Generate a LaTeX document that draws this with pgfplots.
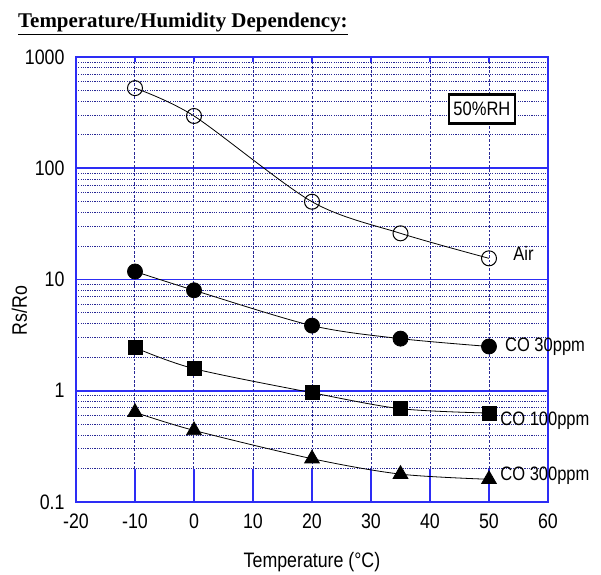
\documentclass[border=0pt]{standalone}
\usepackage{fontspec}
\setmainfont{Liberation Sans}[FakeStretch=0.85]
\newfontfamily\titlefont{Liberation Serif}
\usepackage{pgfplots}
\pgfplotsset{compat=1.18}
\definecolor{frameblue}{RGB}{45,45,245}
\definecolor{gridnavy}{RGB}{40,40,150}
\begin{document}
\begin{tikzpicture}
\path[use as bounding box] (-76bp,-73bp) rectangle (525bp,502bp);
\begin{axis}[
  at={(0,0)}, anchor=south west,
  scale only axis, width=472bp, height=445bp,
  ymode=log,
  xmin=-20, xmax=60, ymin=0.1, ymax=1000,
  xtick={-20,-10,0,10,20,30,40,50,60},
  ytick={0.1,1,10,100,1000},
  yticklabels={0.1,1,10,100,1000},
  minor ytick={0.2,0.3,0.4,0.5,0.6,0.7,0.8,0.9,2,3,4,5,6,7,8,9,20,30,40,50,60,70,80,90,200,300,400,500,600,700,800,900},
  ymajorgrids, yminorgrids,
  major grid style={solid, frameblue, line width=1.6bp},
  minor grid style={gridnavy, line width=1bp, dash pattern=on 1.2bp off 1.1bp},
  major tick length=0pt, minor tick length=0pt,
  axis line style={frameblue, line width=1.4bp},
  /pgf/number format/assume math mode=true,
  ticklabel style={font=\fontsize{21}{24}\selectfont},
  xticklabel style={yshift=-8bp},
  yticklabel style={xshift=-8bp},
  xlabel={Temperature (\textdegree C)},
  ylabel={Rs/Ro},
  label style={font=\fontsize{21}{24}\selectfont},
  xlabel style={at={(axis description cs:0.5,-0.135)}, anchor=center},
  ylabel style={at={(axis description cs:-0.12,0.43)}, anchor=center},
  clip=false,
]
% vertical grid
\pgfplotsinvokeforeach{-10,0,10,20,30,40,50}{
  \draw[gridnavy, line width=1bp, dash pattern=on 2.5bp off 1.8bp] (axis cs:#1,0.2) -- (axis cs:#1,900);
  \draw[frameblue, line width=1.3bp] (axis cs:#1,0.1) -- (axis cs:#1,0.2);
  \draw[frameblue, line width=1.3bp] (axis cs:#1,900) -- (axis cs:#1,1000);
}
\addplot[black, line width=0.8bp, smooth, tension=0.5, mark=o, mark size=7.5bp, mark options={solid, line width=1bp}]
  coordinates {(-10,525) (0,295) (20,50) (35,26) (50,15.5)};
\addplot[black, line width=0.8bp, smooth, tension=0.5, mark=*, mark size=7.5bp]
  coordinates {(-10,11.8) (0,8.0) (20,3.85) (35,2.94) (50,2.5)};
\addplot[black, line width=0.8bp, smooth, tension=0.5, mark=square*, mark size=7bp]
  coordinates {(-10,2.44) (0,1.58) (20,0.96) (35,0.69) (50,0.63)};
\addplot[black, line width=0.8bp, smooth, tension=0.5, mark=triangle*, mark size=8.5bp]
  coordinates {(-10,0.64) (0,0.44) (20,0.245) (35,0.178) (50,0.16)};
\node[anchor=west, inner sep=0pt, font=\fontsize{19.5}{22}\selectfont] at (axis cs:54.1,17.1) {Air};
\node[anchor=west, inner sep=0pt, font=\fontsize{19.5}{22}\selectfont] at (axis cs:52.7,2.49) {CO 30ppm};
\node[anchor=west, inner sep=0pt, font=\fontsize{19.5}{22}\selectfont] at (axis cs:51.9,0.537) {CO 100ppm};
\node[anchor=west, inner sep=0pt, font=\fontsize{19.5}{22}\selectfont] at (axis cs:51.9,0.171) {CO 300ppm};
\node[draw=black, line width=2.6bp, fill=white, minimum width=66bp, minimum height=29bp, inner sep=0pt, font=\fontsize{19.5}{22}\selectfont] at (axis cs:48.8,340) {50\%RH};
\end{axis}
\node[anchor=base west, inner sep=0pt, font=\titlefont\bfseries\fontsize{21}{24}\selectfont] at (-58bp,474bp) {\underline{Temperature/Humidity Dependency:}};
\end{tikzpicture}
\end{document}
